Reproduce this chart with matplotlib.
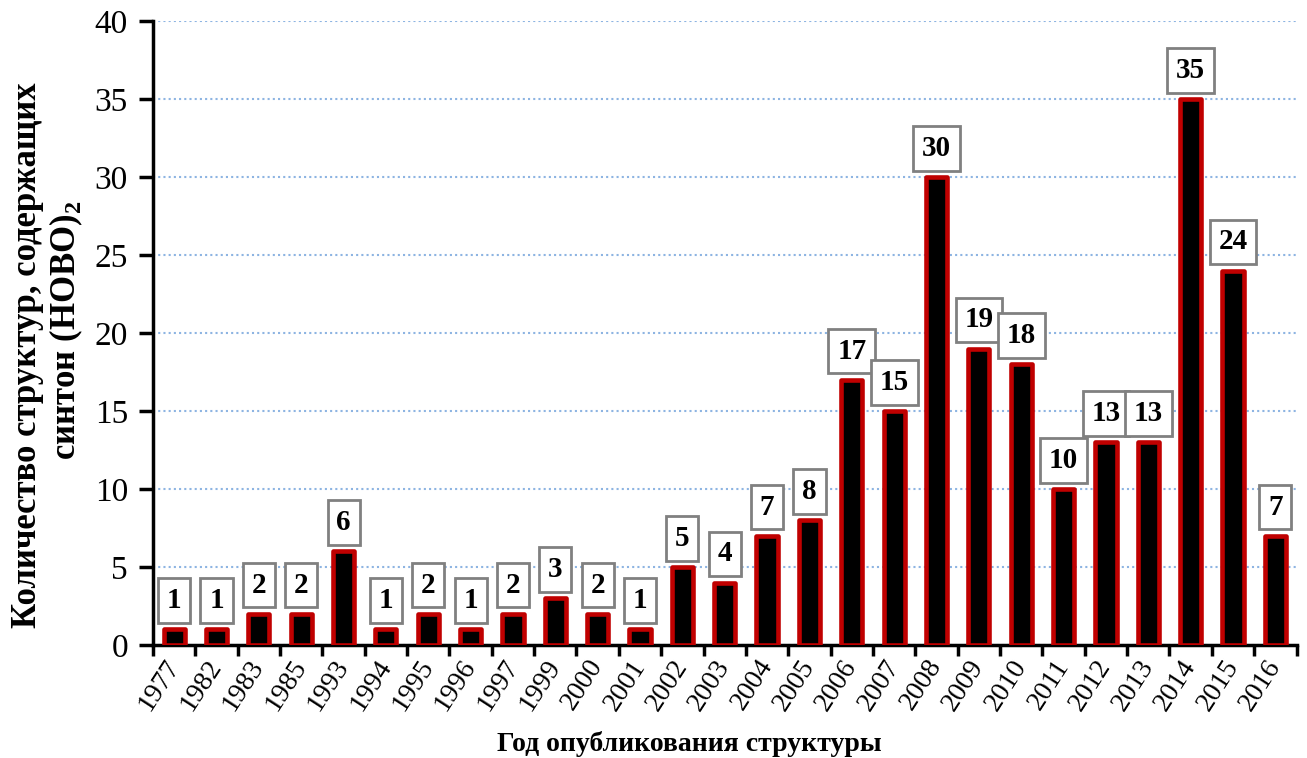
import matplotlib.pyplot as plt
import numpy as np

plt.rcParams['font.family'] = 'Liberation Serif'
plt.rcParams['mathtext.fontset'] = 'custom'
plt.rcParams['mathtext.rm'] = 'Liberation Serif'
plt.rcParams['mathtext.bf'] = 'Liberation Serif:bold'

years = ['1977', '1982', '1983', '1985', '1993', '1994', '1995', '1996', '1997', '1999',
         '2000', '2001', '2002', '2003', '2004', '2005', '2006', '2007', '2008', '2009',
         '2010', '2011', '2012', '2013', '2014', '2015', '2016']
counts = [1, 1, 2, 2, 6, 1, 2, 1, 2, 3, 2, 1, 5, 4, 7, 8, 17, 15, 30, 19, 18, 10, 13, 13, 35, 24, 7]

fig = plt.figure(figsize=(13.07, 7.58), dpi=100)
ax = fig.add_axes([0.117, 0.149, 0.875, 0.823])

x = np.arange(len(years))
ax.bar(x, counts, width=0.5, color='black', edgecolor='#c00000', linewidth=3.3,
       joinstyle='round', zorder=3)

for xi, v in zip(x, counts):
    ax.annotate(str(v), (xi, v), xytext=(0, 11), textcoords='offset points',
                ha='center', va='bottom', fontsize=21, fontweight='bold',
                bbox=dict(boxstyle='square,pad=0.3', fc='white', ec='#808080', lw=2))

ax.set_xlim(-0.5, len(years) - 0.5)
ax.set_ylim(0, 40)
ax.set_yticks(range(0, 41, 5))
ax.set_xticks(x)
ax.set_xticklabels(years, rotation=57, fontsize=20)
ax.set_xticks(np.arange(-0.5, len(years), 1), minor=True)
ax.tick_params(axis='x', which='major', length=0, pad=12)
ax.tick_params(axis='x', which='minor', length=8, width=2.5, direction='out')
ax.tick_params(axis='y', labelsize=24, length=10, width=2.5, direction='out', pad=8)
for lbl in ax.get_xticklabels():
    lbl.set_rotation_mode('anchor')
    lbl.set_ha('right')
    lbl.set_va('center')

ax.yaxis.grid(True, color='#8db4e2', linestyle=(0, (1, 1.5)), linewidth=1.5)
ax.set_axisbelow(True)
for side in ['top', 'right']:
    ax.spines[side].set_visible(False)
ax.spines['left'].set_linewidth(2.5)
ax.spines['bottom'].set_linewidth(2.5)

ax.set_xlabel('Год опубликования структуры', fontsize=20, fontweight='bold')
ax.xaxis.set_label_coords(0.469, -0.138)

# two-line y title, each line placed on its own
fig.text(28 / 1307, 1 - 355 / 758, 'Количество структур, содержащих', rotation=90,
         ha='center', va='center', fontsize=25, fontweight='bold')
fig.text(66 / 1307, 1 - 330 / 758, 'синтон (HOBO)$_\\mathbf{2}$', rotation=90,
         ha='center', va='center', fontsize=25, fontweight='bold')

fig.savefig('out.png', dpi=100)
